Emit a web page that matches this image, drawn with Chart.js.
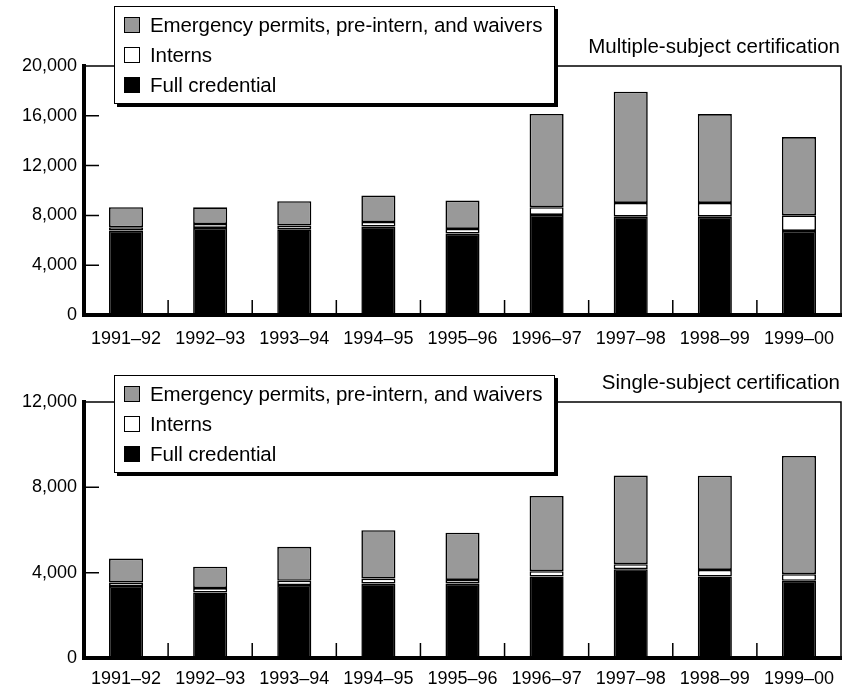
<!DOCTYPE html>
<html>
<head>
<meta charset="utf-8">
<script src="https://cdn.jsdelivr.net/npm/chart.js@4.4.1/dist/chart.umd.min.js"></script>
<style>
  body { margin: 0; background: #fff; font-family: "Liberation Sans", Arial, sans-serif; }
  .panel { position: absolute; left: 0; width: 844px; height: 345px; }
  .legend {
    position: absolute; left: 114px; width: 439px; height: 93px;
    background: #fff; border: 1px solid #000; box-shadow: 3px 3px 0 #000;
    padding-top: 3px; box-sizing: content-box;
  }
  .legend .row { height: 30px; display: flex; align-items: center; padding-left: 9px; font-size: 20.5px; color: #000; letter-spacing: -0.1px; }
  .legend .sw { width: 14px; height: 14px; border: 1px solid #000; margin-right: 10px; }
  .title { position: absolute; right: 4px; font-size: 20.5px; color: #000; }
</style>
</head>
<body>
<div class="panel" style="top:0"><canvas id="multiChart" width="844" height="345"></canvas></div>
<div class="panel" style="top:345px"><canvas id="singleChart" width="844" height="345"></canvas></div>
<div class="legend" id="multiLegend" style="top:6px"></div>
<div class="legend" id="singleLegend" style="top:375px"></div>
<div class="title" style="top:34px">Multiple-subject certification</div>
<div class="title" style="top:370px">Single-subject certification</div>
<script>
// school years on the x axis
const years = ['1991–92', '1992–93', '1993–94', '1994–95', '1995–96', '1996–97', '1997–98', '1998–99', '1999–00'];

// series names and fills
const seriesNames = ['Emergency permits, pre-intern, and waivers', 'Interns', 'Full credential'];
const seriesColors = ['#999999', '#ffffff', '#000000'];

// multiple-subject certification
const multiFull = [6780, 6990, 6880, 7100, 6540, 8040, 7900, 7900, 6750];
const multiInterns = [270, 320, 300, 370, 370, 620, 1100, 1100, 1260];
const multiEmergency = [1610, 1340, 1960, 2120, 2280, 7490, 8930, 7140, 6280];

// single-subject certification
const singleFull = [3370, 3070, 3420, 3490, 3490, 3820, 4165, 3820, 3620];
const singleInterns = [170, 210, 200, 235, 170, 250, 235, 310, 310];
const singleEmergency = [1120, 1000, 1590, 2265, 2210, 3525, 4150, 4415, 5540];

// y axis ticks
const multiMax = 20000;
const singleMax = 12000;
const tickStep = 4000;

// draws the thin top/right frame and the inward tick marks
const framePlugin = {
    id: 'frame',
    afterDatasetsDraw(chart) {
        const ctx = chart.ctx;
        const area = chart.chartArea;
        const x = chart.scales.x;
        const y = chart.scales.y;
        ctx.save();
        ctx.strokeStyle = '#000';
        ctx.lineWidth = 1.5;
        ctx.beginPath();
        ctx.moveTo(area.left, area.top);
        ctx.lineTo(area.right, area.top);
        ctx.lineTo(area.right, area.bottom);
        // y ticks pointing into the plot
        y.ticks.forEach(t => {
            if (t.value <= 0 || t.value >= y.max) return;
            const py = y.getPixelForValue(t.value);
            ctx.moveTo(area.left, py);
            ctx.lineTo(area.left + 15, py);
        });
        // x ticks between the categories
        for (var i = 0; i < years.length - 1; i++) {
            const px = (x.getPixelForValue(i) + x.getPixelForValue(i + 1)) / 2;
            ctx.moveTo(px, area.bottom);
            ctx.lineTo(px, area.bottom - 15);
        }
        ctx.stroke();
        ctx.restore();
    }
};

function buildStackChart(canvasId, full, interns, emergency, maxValue, padTop, xHeight, labelPad) {
    const values = [emergency, interns, full];
    // stack from the bottom: full, interns, emergency
    const datasets = [2, 1, 0].map(k => ({
        label: seriesNames[k],
        data: values[k],
        backgroundColor: seriesColors[k],
        borderColor: '#000',
        borderWidth: 1.6,
        borderSkipped: false,
        barPercentage: 0.405,
        categoryPercentage: 1
    }));
    return new Chart(document.getElementById(canvasId), {
        type: 'bar',
        data: { labels: years, datasets: datasets },
        options: {
            responsive: false,
            animation: false,
            layout: { padding: { top: padTop, right: 3, left: 0, bottom: 0 } },
            plugins: { legend: { display: false }, tooltip: { enabled: false } },
            scales: {
                x: {
                    stacked: true,
                    z: 1,
                    grid: { display: false, drawTicks: false },
                    border: { display: true, width: 4, color: '#000' },
                    ticks: { color: '#000', font: { family: 'Liberation Sans', size: 18 }, padding: labelPad, maxRotation: 0 },
                    afterFit(scale) {
                        scale.height = xHeight;
                        scale.paddingLeft = 0;
                        scale.paddingRight = 0;
                    }
                },
                y: {
                    stacked: true,
                    z: 1,
                    min: 0,
                    max: maxValue,
                    grid: { display: false, drawTicks: false },
                    border: { display: true, width: 4, color: '#000' },
                    ticks: {
                        stepSize: tickStep,
                        color: '#000',
                        font: { family: 'Liberation Sans', size: 18 },
                        padding: 7,
                        callback: v => v.toLocaleString('en-US')
                    },
                    afterFit(scale) {
                        scale.width = 84;
                        scale.paddingTop = 0;
                        scale.paddingBottom = 0;
                    }
                }
            }
        },
        plugins: [framePlugin]
    });
}

// legend rows built from the series names and colours
function buildLegend(divId) {
    const div = document.getElementById(divId);
    for (var k = 0; k < seriesNames.length; k++) {
        const row = document.createElement('div');
        row.className = 'row';
        const sw = document.createElement('span');
        sw.className = 'sw';
        sw.style.background = seriesColors[k];
        row.appendChild(sw);
        row.appendChild(document.createTextNode(seriesNames[k]));
        div.appendChild(row);
    }
}

buildStackChart('multiChart', multiFull, multiInterns, multiEmergency, multiMax, 66, 30, 13);
buildStackChart('singleChart', singleFull, singleInterns, singleEmergency, singleMax, 57, 32, 10);
buildLegend('multiLegend');
buildLegend('singleLegend');
</script>
</body>
</html>
